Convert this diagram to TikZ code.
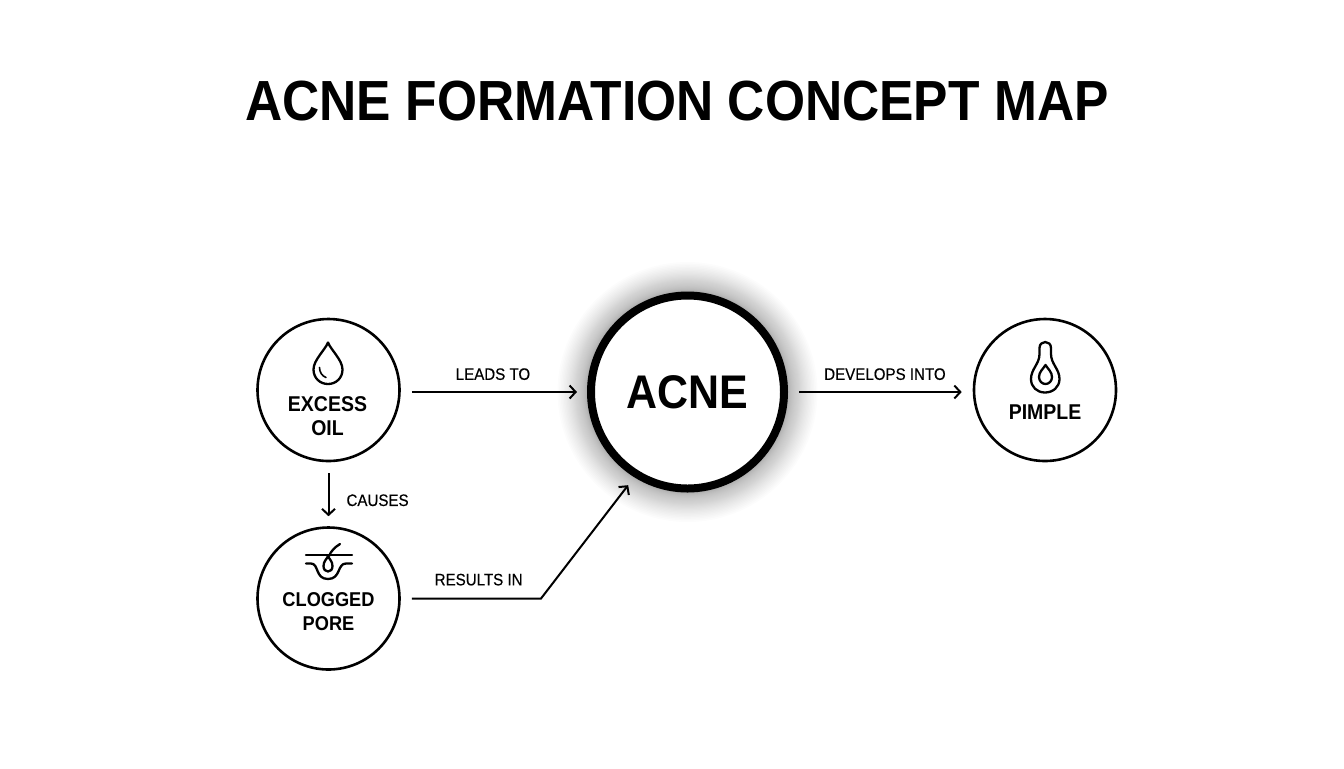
\documentclass[tikz,border=0pt]{standalone}
\usepackage{fontspec}
\setmainfont[FakeStretch=0.91]{Liberation Sans}
\usetikzlibrary{arrows.meta,positioning,calc}
\tikzset{
  %Define standard arrow tip
  >={Straight Barb[length=3pt,width=6.5pt]},
  %Define style for small circles
  concept/.style={
    circle,
    draw=black, line width=1.3pt,
    fill=white,
    inner sep=0pt,
    minimum size=71pt},
  %Define style for main circle
  mainconcept/.style={
    circle,
    draw=black, line width=4pt,
    fill=white,
    inner sep=0pt,
    minimum size=96.5pt,
    font=\fontsize{23.6}{23.6}\selectfont\bfseries},
  % Define text inside circles
  inner text/.style={
    align=center,
    inner sep=0pt,
    font=\fontsize{10.7}{12}\selectfont\bfseries},
  % Define arrow style
  pil/.style={
    ->,
    line width=1pt},
  % Define connector labels
  linklabel/.style={
    inner sep=0pt,
    font=\fontsize{8.3}{10}\selectfont\addfontfeature{FakeBold=0.35}},
  % Define icon lines
  icon/.style={
    line width=1.15pt,
    line cap=round,
    line join=round}
}
\begin{document}
\begin{tikzpicture}[x=0.5pt,y=-0.5pt]
  \useasboundingbox (0,0) rectangle (1344,768);
  \node[inner sep=0pt,font=\fontsize{28.3}{28.3}\selectfont\bfseries] (title) at (677,101) {ACNE FORMATION CONCEPT MAP};
  % glow round the main circle
  \coordinate (acnec) at (687.5,392);
  \foreach \i in {1,...,40} {
    \pgfmathsetmacro{\r}{100+30*(\i/40)^2.2}
    \fill[black,opacity=0.012] (acnec) circle (\r);
  }
  \node[mainconcept] (acne) at (acnec) {ACNE};
  \node[concept] (excess) at (328.5,390) {};
  \node[concept] (pore) at (328.5,598.5) {};
  \node[concept] (pimple) at (1045,390) {};
  \node[inner text] (excesstext) at (327.5,416) {EXCESS\\OIL};
  \node[inner text,font=\fontsize{10}{12}\selectfont\bfseries] (poretext) at (328.5,612) {CLOGGED\\PORE};
  \node[inner text] (pimpletext) at (1045,412) {PIMPLE};
  \coordinate (bend) at (541,598.5);
  % connectors
  \draw[pil,shorten <=11pt/2,shorten >=10pt/2] (excess.east |- acne.west) -- node[linklabel,above=11pt/2,pos=0.495] (leads) {LEADS TO} (acne.west);
  \draw[pil,shorten <=11pt/2,shorten >=11pt/2] (acne.east) -- node[linklabel,above=11pt/2,pos=0.525] (develops) {DEVELOPS INTO} (pimple.west |- acne.east);
  \draw[pil,shorten <=11pt/2,shorten >=10pt/2] (excess.south) -- node[linklabel,right=17pt/2,yshift=-3pt] (causes) {CAUSES} (pore.north);
  \draw[pil,shorten <=11pt/2,shorten >=10pt/2,line join=miter] (pore.east) -- node[linklabel,above=12pt/2,pos=0.555] (results) {RESULTS IN} (bend) -- (acne.238);
  % oil drop
  \draw[icon] (328,342.5) .. controls (325,350) and (313.5,360) .. (313.5,369.5)
    .. controls (313.5,378) and (320,384) .. (328,384)
    .. controls (336,384) and (342.5,378) .. (342.5,369.5)
    .. controls (342.5,360) and (331,350) .. (328,342.5) -- cycle;
  \draw[icon,line width=0.8pt] (319.5,367.5) .. controls (319.5,372) and (322,376) .. (326,377.5);
  % pore
  \draw[icon] (306,555) -- (352,555);
  \draw[icon] (306,563.5) -- (311,563.5) .. controls (319,563.5) and (315,579) .. (328,579)
    .. controls (341,579) and (337,563.5) .. (346,563.5) -- (352,563.5);
  \draw[icon] (340,544) .. controls (335,547) and (331,551) .. (329,556);
  \draw[icon] (328,556) .. controls (327,559) and (323.5,561) .. (323.5,566)
    .. controls (323.5,569.5) and (325.5,571.5) .. (328,571.5)
    .. controls (330.5,571.5) and (332.5,569.5) .. (332.5,566)
    .. controls (332.5,561) and (329,559) .. (328,556) -- cycle;
  % pimple
  \draw[icon] (1039.5,348) .. controls (1039.5,340) and (1051,340) .. (1051,348)
    -- (1051,354) .. controls (1051,364) and (1059.5,369) .. (1059.5,379)
    .. controls (1059.5,387) and (1053,392.5) .. (1045,392.5)
    .. controls (1037,392.5) and (1031,387) .. (1031,379)
    .. controls (1031,369) and (1039.5,364) .. (1039.5,354) -- cycle;
  \draw[icon] (1045.5,365) .. controls (1043,369) and (1039,372) .. (1039,377)
    .. controls (1039,381) and (1042,384) .. (1045.5,384)
    .. controls (1049,384) and (1052,381) .. (1052,377)
    .. controls (1052,372) and (1048,369) .. (1045.5,365) -- cycle;
\end{tikzpicture}
\end{document}
